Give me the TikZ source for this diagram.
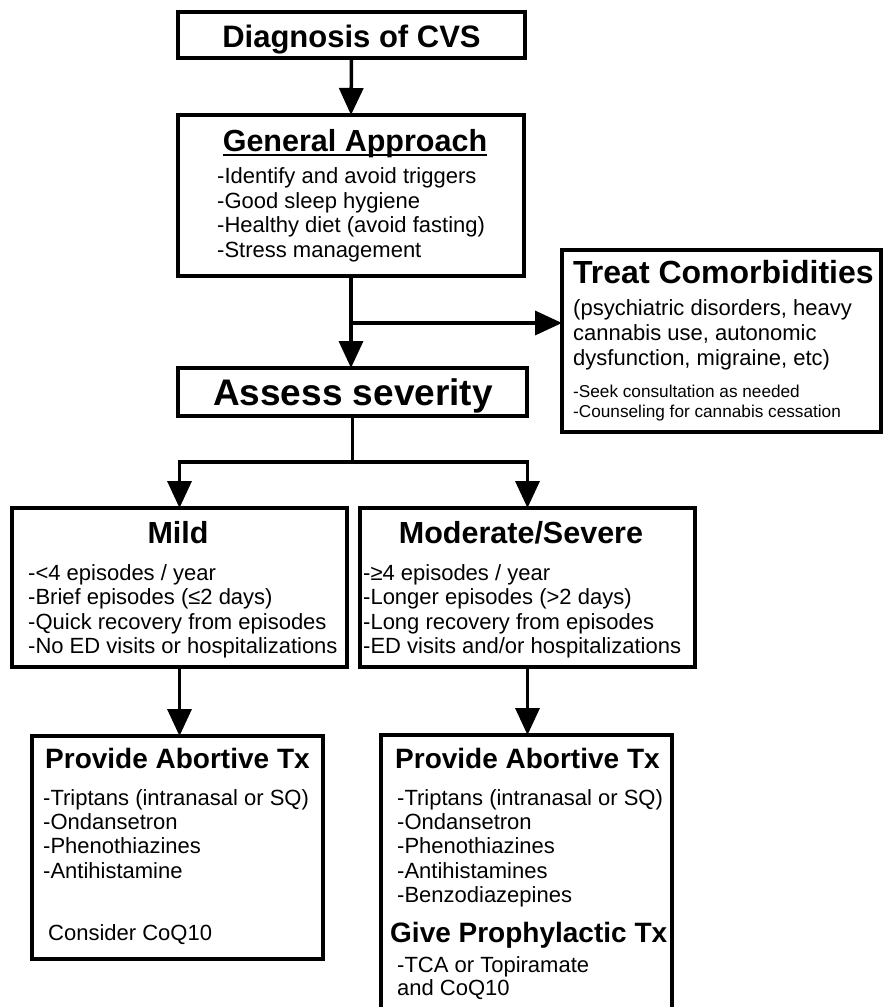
\documentclass[tikz,border=0pt]{standalone}
\usepackage{fontspec}
\setmainfont{Liberation Sans}
\usetikzlibrary{arrows.meta}
\tikzset{
  box/.style={draw, line width=3.8pt, rectangle, inner sep=0pt, outer sep=0pt, anchor=north west},
  arr/.style={line width=3.5pt, -{Triangle[width=24pt,length=27pt]}},
  ttl/.style={anchor=base, inner sep=0pt, font=\bfseries\fontsize{#1}{#1}\selectfont},
  ttlw/.style={anchor=base west, inner sep=0pt, font=\bfseries\fontsize{#1}{#1}\selectfont},
  body/.style={anchor=base west, inner sep=0pt, font=\fontsize{22}{26}\selectfont},
  small/.style={anchor=base west, inner sep=0pt, font=\fontsize{17.2}{20}\selectfont},
}
\begin{document}
\begin{tikzpicture}[x=1pt,y=-1pt]
\useasboundingbox (0,0) rectangle (884,1007);
% boxes
\node[box, minimum width=347pt, minimum height=46pt] (diag) at (178,12) {};
\node[box, minimum width=346pt, minimum height=161pt] (gen) at (178,115) {};
\node[box, minimum width=319pt, minimum height=182pt] (treat) at (562,250) {};
\node[box, minimum width=349pt, minimum height=48pt] (assess) at (178,368) {};
\node[box, minimum width=335pt, minimum height=159pt] (mild) at (12,508) {};
\node[box, minimum width=335pt, minimum height=159pt] (mod) at (360,508) {};
\node[box, minimum width=291pt, minimum height=223pt] (abl) at (32,736) {};
\node[box, minimum width=291pt, minimum height=300pt] (abr) at (381,735) {};
% texts
\node[ttl=31] (tdiag) at (351.5,47) {Diagnosis of CVS};
\node[ttl=30.5] (tgen) at (355,151) {General Approach};
\draw[line width=2.4pt] ([yshift=-4pt]tgen.base west) -- ([yshift=-4pt]tgen.base east);
\node[body] (g1) at (217,183.5) {-Identify and avoid triggers};
\node[body] (g2) at (217,208) {-Good sleep hygiene};
\node[body] (g3) at (217,232.5) {-Healthy diet (avoid fasting)};
\node[body] (g4) at (217,257) {-Stress management};
\node[ttlw=32] (ttreat) at (573,283) {Treat Comorbidities};
\node[body] (c1) at (573,315) {(psychiatric disorders, heavy};
\node[body] (c2) at (573,340) {cannabis use, autonomic};
\node[body] (c3) at (573,365) {dysfunction, migraine, etc)};
\node[small] (c4) at (573,397) {-Seek consultation as needed};
\node[small] (c5) at (573,417) {-Counseling for cannabis cessation};
\node[ttl=37] (tassess) at (353,405) {Assess severity};
\node[ttl=30.5] (tmild) at (178,543) {Mild};
\node[body] (m1) at (28,580) {-<4 episodes / year};
\node[body] (m2) at (28,604.5) {-Brief episodes (≤2 days)};
\node[body] (m3) at (28,629) {-Quick recovery from episodes};
\node[body] (m4) at (28,653.5) {-No ED visits or hospitalizations};
\node[ttl=30.5] (tmod) at (521,543) {Moderate/Severe};
\node[body] (s1) at (363,580) {-≥4 episodes / year};
\node[body] (s2) at (363,604.5) {-Longer episodes (>2 days)};
\node[body] (s3) at (363,629) {-Long recovery from episodes};
\node[body] (s4) at (363,653.5) {-ED visits and/or hospitalizations};
\node[ttlw=28] (tabl) at (45,768) {Provide Abortive Tx};
\node[body] (a1) at (43,805) {-Triptans (intranasal or SQ)};
\node[body] (a2) at (43,829) {-Ondansetron};
\node[body] (a3) at (43,853) {-Phenothiazines};
\node[body] (a4) at (43,878) {-Antihistamine};
\node[body] (a5) at (48,940) {Consider CoQ10};
\node[ttlw=28] (tabr) at (395,768) {Provide Abortive Tx};
\node[body] (b1) at (397,805) {-Triptans (intranasal or SQ)};
\node[body] (b2) at (397,829) {-Ondansetron};
\node[body] (b3) at (397,853) {-Phenothiazines};
\node[body] (b4) at (397,878) {-Antihistamines};
\node[body] (b5) at (397,902) {-Benzodiazepines};
\node[ttlw=28] (tpro) at (390,942) {Give Prophylactic Tx};
\node[body] (p1) at (397,972) {-TCA or Topiramate};
\node[body] (p2) at (397,995) {and CoQ10};
% connectors
\coordinate (by) at (0,323);
\coordinate (sy) at (0,462);
\coordinate (br) at (gen.south |- by);
\coordinate (split) at (assess.south |- sy);
\draw[arr] (diag.south) -- (gen.north);
\draw[arr] (gen.south) -- (gen.south |- assess.north);
\draw[arr] (br) -- (br -| treat.west);
\draw[line width=3.5pt] (assess.south) -- (split);
\draw[arr] (split) -- (mild.north |- split) -- (mild.north);
\draw[arr] (split) -- (mod.north |- split) -- (mod.north);
\draw[arr] (mild.south) -- (mild.south |- abl.north);
\draw[arr] (mod.south) -- (mod.south |- abr.north);
\end{tikzpicture}
\end{document}
